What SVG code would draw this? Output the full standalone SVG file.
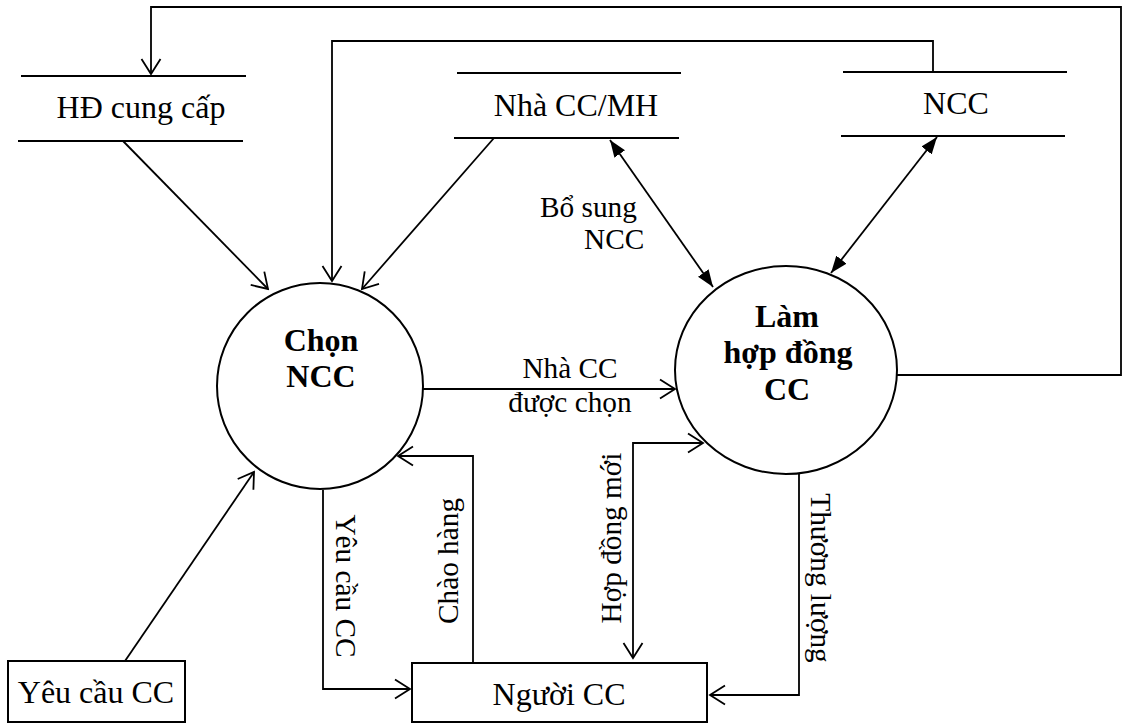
<svg xmlns="http://www.w3.org/2000/svg" width="1125" height="724" viewBox="0 0 1125 724">
<style>
text{font-family:"Liberation Serif","Times New Roman",serif;fill:#000}
.ent{font-size:32px;text-anchor:middle}
.proc{font-size:32px;font-weight:bold;text-anchor:middle}
.lbl{font-size:29.3px}
.mid{text-anchor:middle}
.shape{fill:#fff;stroke:#000;stroke-width:2}
.store{stroke:#000;stroke-width:2;fill:none}
.conn{fill:none;stroke:#000;stroke-width:1.8}
.open{marker-end:url(#open)}
.both{marker-start:url(#fillS);marker-end:url(#fill)}
</style>
<defs>
<marker id="open" markerUnits="userSpaceOnUse" markerWidth="18" markerHeight="22" viewBox="0 0 18 22" refX="16" refY="11" orient="auto">
<path d="M1,1.5 L16,11 L1,20.5" fill="none" stroke="#000" stroke-width="1.8"/>
</marker>
<marker id="openS" markerUnits="userSpaceOnUse" markerWidth="18" markerHeight="22" viewBox="0 0 18 22" refX="16" refY="11" orient="auto-start-reverse">
<path d="M1,1.5 L16,11 L1,20.5" fill="none" stroke="#000" stroke-width="1.8"/>
</marker>
<marker id="fill" markerUnits="userSpaceOnUse" markerWidth="18" markerHeight="14" viewBox="0 0 18 14" refX="17" refY="7" orient="auto">
<path d="M0,0.5 L17,7 L0,13.5 z" fill="#000"/>
</marker>
<marker id="fillS" markerUnits="userSpaceOnUse" markerWidth="18" markerHeight="14" viewBox="0 0 18 14" refX="17" refY="7" orient="auto-start-reverse">
<path d="M0,0.5 L17,7 L0,13.5 z" fill="#000"/>
</marker>
</defs>
<rect width="1125" height="724" fill="#fff"/>

<g id="connectors">
<path class="conn open" d="M897,375 H1121 V7 H151 V74"/>
<path class="conn open" d="M933,72 V41 H332 V281"/>
<path class="conn open" d="M123,141 L268,289"/>
<path class="conn open" d="M494,138 L362,289"/>
<path class="conn both" d="M610,140 L713,287"/>
<path class="conn both" d="M937,137 L831,273"/>
<path class="conn open" d="M423,389 H675"/>
<path class="conn open" d="M125,661 L254,472"/>
<path class="conn open" d="M323,490 V689 H410"/>
<path class="conn open" d="M473,663 V456 H398"/>
<path class="conn" d="M633,658 V443 H703" style="marker-start:url(#openS);marker-end:url(#open)"/>
<path class="conn open" d="M799,474 V695 H710"/>
<text class="lbl" x="540" y="217">Bổ sung</text>
<text class="lbl" x="584" y="249">NCC</text>
<text class="lbl mid" x="570" y="378">Nhà CC</text>
<text class="lbl mid" x="570" y="412">được chọn</text>
<text class="lbl mid" transform="translate(336,586) rotate(90)">Yêu cầu CC</text>
<text class="lbl mid" transform="translate(458,561) rotate(-90)">Chào hàng</text>
<text class="lbl mid" transform="translate(621,538) rotate(-90)">Hợp đồng mới</text>
<text class="lbl mid" transform="translate(811,578) rotate(90)">Thương lượng</text>
</g>

<g id="store-hd">
<line class="store" x1="21" y1="76" x2="246" y2="76"/>
<line class="store" x1="18" y1="141" x2="243" y2="141"/>
<text class="ent" x="141" y="118">HĐ cung cấp</text>
</g>

<g id="store-nhacc">
<line class="store" x1="457" y1="73" x2="681" y2="73"/>
<line class="store" x1="454" y1="138" x2="679" y2="138"/>
<text class="ent" x="576" y="116">Nhà CC/MH</text>
</g>

<g id="store-ncc">
<line class="store" x1="843" y1="72" x2="1067" y2="72"/>
<line class="store" x1="841" y1="136" x2="1065" y2="136"/>
<text class="ent" x="956" y="114">NCC</text>
</g>

<g id="proc-chon">
<circle class="shape" cx="320" cy="386" r="103"/>
<text class="proc" x="321" y="351">Chọn</text>
<text class="proc" x="321" y="387">NCC</text>
</g>

<g id="proc-lam">
<ellipse class="shape" cx="786" cy="370" rx="111" ry="104"/>
<text class="proc" x="787" y="327">Làm</text>
<text class="proc" x="788" y="363">hợp đồng</text>
<text class="proc" x="787" y="400">CC</text>
</g>

<g id="ent-yeucau">
<rect class="shape" x="8" y="661" width="177" height="61"/>
<text class="ent" x="96" y="703">Yêu cầu CC</text>
</g>

<g id="ent-nguoi">
<rect class="shape" x="412" y="663" width="295" height="59"/>
<text class="ent" x="559" y="705">Người CC</text>
</g>
</svg>
